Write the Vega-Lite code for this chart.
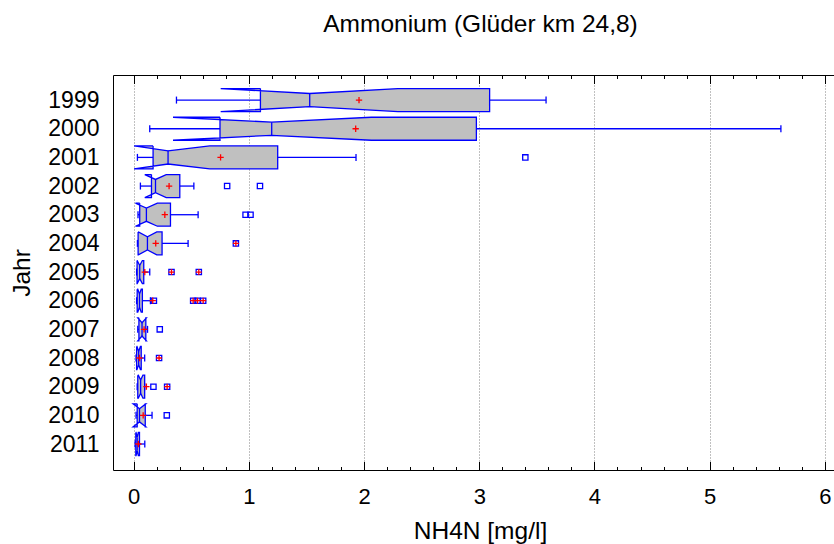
{
  "$schema": "https://vega.github.io/schema/vega-lite/v6.json",
  "width": 721,
  "height": 395,
  "autosize": {"type": "none"},
  "padding": {"left": 113, "top": 75, "right": 0, "bottom": 74},
  "background": "white",
  "title": {
    "text": "Ammonium (Glüder km 24,8)",
    "font": "Liberation Sans",
    "fontSize": 24.5,
    "fontWeight": "normal",
    "color": "black",
    "anchor": "middle",
    "frame": "group",
    "dx": 7,
    "offset": 18.5,
    "baseline": "alphabetic"
  },
  "config": {
    "view": {"stroke": null},
    "font": "Liberation Sans",
    "axis": {"domainColor": "black", "tickColor": "black", "labelColor": "black", "titleColor": "black", "titleFontWeight": "normal", "labelFont": "Liberation Sans", "titleFont": "Liberation Sans"}
  },
  "datasets": {
    "boxes": [
      {"year": 1999, "wlo": 0.371, "nlo": 0.755, "q1": 1.10, "med": 1.528, "nhi": 2.294, "q3": 3.09, "whi": 3.58, "mean": 1.956},
      {"year": 2000, "wlo": 0.139, "nlo": 0.341, "q1": 0.749, "med": 1.198, "nhi": 2.063, "q3": 2.975, "whi": 5.619, "mean": 1.927},
      {"year": 2001, "wlo": 0.032, "nlo": 0.003, "q1": 0.168, "med": 0.298, "nhi": 0.66, "q3": 1.25, "whi": 1.93, "mean": 0.754},
      {"year": 2002, "wlo": 0.058, "nlo": 0.096, "q1": 0.154, "med": 0.189, "nhi": 0.282, "q3": 0.40, "whi": 0.522, "mean": 0.307},
      {"year": 2003, "wlo": 0.037, "nlo": 0.015, "q1": 0.052, "med": 0.11, "nhi": 0.205, "q3": 0.319, "whi": 0.559, "mean": 0.27},
      {"year": 2004, "wlo": 0.032, "nlo": 0.04, "q1": 0.038, "med": 0.119, "nhi": 0.2, "q3": 0.246, "whi": 0.472, "mean": 0.191},
      {"year": 2005, "wlo": 0.025, "nlo": 0.03, "q1": 0.029, "med": 0.052, "nhi": 0.075, "q3": 0.087, "whi": 0.139, "mean": 0.096},
      {"year": 2006, "wlo": 0.025, "nlo": 0.035, "q1": 0.03, "med": 0.05, "nhi": 0.065, "q3": 0.075, "whi": 0.145, "mean": 0.165},
      {"year": 2007, "wlo": 0.035, "nlo": 0.035, "q1": 0.045, "med": 0.072, "nhi": 0.11, "q3": 0.105, "whi": 0.12, "mean": 0.09},
      {"year": 2008, "wlo": 0.02, "nlo": 0.028, "q1": 0.025, "med": 0.043, "nhi": 0.058, "q3": 0.065, "whi": 0.095, "mean": 0.05},
      {"year": 2009, "wlo": 0.03, "nlo": 0.04, "q1": 0.035, "med": 0.06, "nhi": 0.08, "q3": 0.095, "whi": 0.095, "mean": 0.11},
      {"year": 2010, "wlo": 0.02, "nlo": -0.005, "q1": 0.03, "med": 0.05, "nhi": 0.105, "q3": 0.10, "whi": 0.159, "mean": 0.082},
      {"year": 2011, "wlo": 0.012, "nlo": 0.02, "q1": 0.018, "med": 0.03, "nhi": 0.04, "q3": 0.05, "whi": 0.096, "mean": 0.04}
    ],
    "outliers": [
      {"year": 2001, "value": 3.40, "far": false},
      {"year": 2002, "value": 0.811, "far": false},
      {"year": 2002, "value": 1.096, "far": false},
      {"year": 2003, "value": 0.971, "far": false},
      {"year": 2003, "value": 1.014, "far": false},
      {"year": 2004, "value": 0.887, "far": true},
      {"year": 2005, "value": 0.328, "far": true},
      {"year": 2005, "value": 0.565, "far": true},
      {"year": 2006, "value": 0.175, "far": false},
      {"year": 2006, "value": 0.516, "far": true},
      {"year": 2006, "value": 0.554, "far": true},
      {"year": 2006, "value": 0.603, "far": true},
      {"year": 2007, "value": 0.226, "far": false},
      {"year": 2008, "value": 0.22, "far": true},
      {"year": 2009, "value": 0.171, "far": false},
      {"year": 2009, "value": 0.29, "far": true},
      {"year": 2010, "value": 0.287, "far": false}
    ]
  },
  "encoding": {
    "y": {
      "field": "year",
      "type": "quantitative",
      "scale": {"domain": [1998.125, 2011.907], "reverse": true, "nice": false, "zero": false},
      "axis": {
        "orient": "left",
        "values": [1999, 2000, 2001, 2002, 2003, 2004, 2005, 2006, 2007, 2008, 2009, 2010, 2011],
        "format": "d",
        "labelFontSize": 23,
        "labelPadding": 14,
        "labelBaseline": "middle",
        "labelFlush": false,
        "labelOverlap": false,
        "ticks": false,
        "tickSize": 0,
        "grid": false,
        "domain": true,
        "domainColor": "black",
        "title": "Jahr",
        "titleFontSize": 24.5,
        "titleAngle": 270,
        "titleX": -84,
        "titleY": 197.5,
        "titleAlign": "center",
        "titleBaseline": "alphabetic"
      }
    }
  },
  "layer": [
    {
      "data": {"name": "boxes"},
      "transform": [
        {"fold": ["q1", "nlo", "med", "nhi", "q3", "q3", "nhi", "med", "nlo", "q1", "q1"], "as": ["stat", "v"]},
        {"window": [{"op": "row_number", "as": "vi"}], "groupby": ["year"]}
      ],
      "mark": {
        "type": "line",
        "fill": "#c0c0c0",
        "stroke": "#0000ff",
        "strokeWidth": 1.3,
        "strokeJoin": "miter",
        "yOffset": {"expr": "(datum.vi <= 5 || datum.vi >= 11 ? -1 : 1) * (datum.stat === 'med' ? 6.6 : 11.5)"}
      },
      "encoding": {
        "x": {
          "field": "v",
          "type": "quantitative",
          "scale": {"domain": [-0.18, 6.08], "nice": false, "zero": false},
          "axis": {
            "orient": "bottom",
            "values": [0, 1, 2, 3, 4, 5, 6],
            "format": "d",
            "labelFontSize": 22,
            "labelBaseline": "alphabetic",
            "labelPadding": 33.3,
            "labelFlush": false,
            "labelOverlap": false,
            "ticks": false,
            "tickSize": 0,
            "grid": true,
            "gridColor": "#808080",
            "gridDash": [1, 2],
            "gridWidth": 1,
            "domain": true,
            "domainColor": "black",
            "title": "NH4N [mg/l]",
            "titleFontSize": 24.5,
            "titleX": 367,
            "titleY": 68.3,
            "titleAlign": "center",
            "titleBaseline": "alphabetic"
          }
        },
        "detail": {"field": "year", "type": "nominal"},
        "order": {"field": "vi", "type": "quantitative"}
      }
    },
    {
      "data": {"name": "boxes"},
      "mark": {"type": "rule", "stroke": "#0000ff", "strokeWidth": 1.3, "yOffset": -6.6, "y2Offset": 6.6},
      "encoding": {
        "x": {
          "field": "med",
          "type": "quantitative",
          "scale": {"domain": [-0.18, 6.08], "nice": false, "zero": false},
          "axis": {
            "orient": "bottom",
            "values": [0, 0.2, 0.4, 0.6, 0.8, 1, 1.2, 1.4, 1.6, 1.8, 2, 2.2, 2.4, 2.6, 2.8, 3, 3.2, 3.4, 3.6, 3.8, 4, 4.2, 4.4, 4.6, 4.8, 5, 5.2, 5.4, 5.6, 5.8, 6],
            "labels": false,
            "grid": false,
            "domain": false,
            "title": null,
            "ticks": true,
            "tickColor": "black",
            "tickWidth": 1,
            "tickSize": {"condition": {"test": "abs(datum.value - round(datum.value)) < 0.001", "value": -8.5}, "value": -3.5}
          }
        },
        "y2": {"field": "year"}
      }
    },
    {
      "data": {"name": "boxes"},
      "mark": {"type": "rule", "stroke": "#0000ff", "strokeWidth": 1.3},
      "encoding": {
        "x": {"field": "wlo", "type": "quantitative", "scale": {"domain": [-0.18, 6.08], "nice": false, "zero": false}, "axis": null},
        "x2": {"field": "q1"}
      }
    },
    {
      "data": {"name": "boxes"},
      "mark": {"type": "rule", "stroke": "#0000ff", "strokeWidth": 1.3},
      "encoding": {
        "x": {"field": "q3", "type": "quantitative", "scale": {"domain": [-0.18, 6.08], "nice": false, "zero": false}, "axis": null},
        "x2": {"field": "whi"}
      }
    },
    {
      "data": {"name": "boxes"},
      "mark": {"type": "rule", "stroke": "#0000ff", "strokeWidth": 1.3, "yOffset": -3.5, "y2Offset": 3.5},
      "encoding": {
        "x": {"field": "wlo", "type": "quantitative", "scale": {"domain": [-0.18, 6.08], "nice": false, "zero": false}, "axis": null},
        "y2": {"field": "year"}
      }
    },
    {
      "data": {"name": "boxes"},
      "mark": {"type": "rule", "stroke": "#0000ff", "strokeWidth": 1.3, "yOffset": -3.5, "y2Offset": 3.5},
      "encoding": {
        "x": {"field": "whi", "type": "quantitative", "scale": {"domain": [-0.18, 6.08], "nice": false, "zero": false}, "axis": null},
        "y2": {"field": "year"}
      }
    },
    {
      "data": {"name": "outliers"},
      "mark": {"type": "point", "shape": "square", "filled": false, "stroke": "#0000ff", "strokeWidth": 1.3, "size": 28, "opacity": 1},
      "encoding": {
        "x": {"field": "value", "type": "quantitative", "scale": {"domain": [-0.18, 6.08], "nice": false, "zero": false}, "axis": null}
      }
    },
    {
      "data": {"name": "outliers"},
      "transform": [{"filter": "datum.far"}],
      "mark": {"type": "point", "shape": "M-1,0L1,0M0,-1L0,1", "filled": false, "stroke": "#ff0000", "strokeWidth": 1.3, "size": 36, "opacity": 1},
      "encoding": {
        "x": {"field": "value", "type": "quantitative", "scale": {"domain": [-0.18, 6.08], "nice": false, "zero": false}, "axis": null}
      }
    },
    {
      "data": {"name": "boxes"},
      "mark": {"type": "point", "shape": "M-1,0L1,0M0,-1L0,1", "filled": false, "stroke": "#ff0000", "strokeWidth": 1.3, "size": 40, "opacity": 1},
      "encoding": {
        "x": {
          "field": "mean",
          "type": "quantitative",
          "scale": {"domain": [-0.18, 6.08], "nice": false, "zero": false},
          "axis": {
            "orient": "top",
            "values": [0, 0.2, 0.4, 0.6, 0.8, 1, 1.2, 1.4, 1.6, 1.8, 2, 2.2, 2.4, 2.6, 2.8, 3, 3.2, 3.4, 3.6, 3.8, 4, 4.2, 4.4, 4.6, 4.8, 5, 5.2, 5.4, 5.6, 5.8, 6],
            "labels": false,
            "grid": false,
            "domain": true,
            "domainColor": "black",
            "title": null,
            "ticks": true,
            "tickColor": "black",
            "tickWidth": 1,
            "tickSize": {"condition": {"test": "abs(datum.value - round(datum.value)) < 0.001", "value": -8.5}, "value": -3.5}
          }
        }
      }
    }
  ],
  "resolve": {"axis": {"x": "independent"}}
}
